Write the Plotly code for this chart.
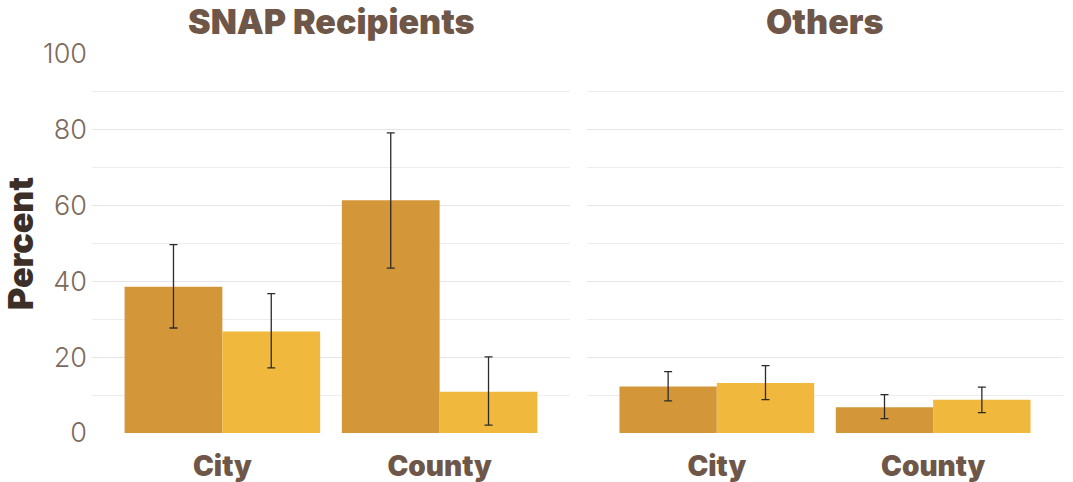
import plotly.graph_objects as go

# Data
categories = ["City", "County"]
panels = ["SNAP Recipients", "Others"]

snap_a = [38.6, 61.4]
snap_a_hi = [49.7, 79.2]
snap_a_lo = [27.7, 43.5]
snap_b = [26.8, 10.9]
snap_b_hi = [36.8, 20.1]
snap_b_lo = [17.2, 2.1]

other_a = [12.3, 6.8]
other_a_hi = [16.2, 10.1]
other_a_lo = [8.5, 3.8]
other_b = [13.2, 8.8]
other_b_hi = [17.8, 12.1]
other_b_lo = [8.8, 5.4]

y_ticks = [0, 20, 40, 60, 80, 100]

COL_A = "#D3973A"
COL_B = "#F0B83C"
ERR = "#2b2b2b"
BROWN = "#6E5648"
TICK = "#7C6A5E"
DARK = "#3B2F27"


def bar(vals, hi, lo, color, name, xa, ya):
    return go.Bar(
        x=categories, y=vals, name=name, marker=dict(color=color, line=dict(width=0)),
        error_y=dict(type="data", symmetric=False,
                     array=[h - v for h, v in zip(hi, vals)],
                     arrayminus=[v - l for l, v in zip(lo, vals)],
                     color=ERR, thickness=1.3, width=4),
        xaxis=xa, yaxis=ya, showlegend=False,
    )


fig = go.Figure()
fig.add_trace(bar(snap_a, snap_a_hi, snap_a_lo, COL_A, "Group 1", "x", "y"))
fig.add_trace(bar(snap_b, snap_b_hi, snap_b_lo, COL_B, "Group 2", "x", "y"))
fig.add_trace(bar(other_a, other_a_hi, other_a_lo, COL_A, "Group 1", "x2", "y2"))
fig.add_trace(bar(other_b, other_b_hi, other_b_lo, COL_B, "Group 2", "x2", "y2"))

W, H = 1073, 482
TOP, BOT = 54, 49
dom1 = [92 / W, 570 / W]
dom2 = [587 / W, 1063 / W]

xcommon = dict(range=[-0.6, 1.6], showgrid=False, zeroline=False, showline=False,
               ticks="", ticklabelstandoff=14, automargin=False,
               tickfont=dict(family="Inter", size=28, color=BROWN, weight=900))
ycommon = dict(range=[0, 100], tickvals=y_ticks, showgrid=True, gridcolor="#E6E6E6",
               gridwidth=1, zeroline=False, showline=False, ticks="", automargin=False,
               minor=dict(dtick=10, showgrid=True, gridcolor="#EDEDED", gridwidth=1),
               tickfont=dict(family="Inter", size=27, color=TICK, weight=300))

# panel titles sit 22px from the top of the page
title_y = (H - 22 - BOT) / (H - TOP - BOT)
title_font = dict(family="Inter", size=34, color=BROWN, weight=900)

fig.update_layout(
    width=W, height=H,
    margin=dict(l=0, r=0, t=TOP, b=BOT),
    paper_bgcolor="white", plot_bgcolor="white",
    barmode="group", bargap=0.1, bargroupgap=0,
    xaxis=dict(domain=dom1, anchor="y", **xcommon),
    xaxis2=dict(domain=dom2, anchor="y2", **xcommon),
    yaxis=dict(anchor="x", ticklabelstandoff=4,
               title=dict(text="Percent", standoff=8,
                          font=dict(family="Inter", size=34, color=DARK, weight=900)),
               **ycommon),
    yaxis2=dict(anchor="x2", matches="y", showticklabels=False, **ycommon),
    annotations=[
        dict(text=panels[0], x=(dom1[0] + dom1[1]) / 2, y=title_y, xref="paper",
             yref="paper", xanchor="center", yanchor="middle", showarrow=False,
             font=title_font),
        dict(text=panels[1], x=(dom2[0] + dom2[1]) / 2, y=title_y, xref="paper",
             yref="paper", xanchor="center", yanchor="middle", showarrow=False,
             font=title_font),
    ],
)

fig.write_html("out.html")
